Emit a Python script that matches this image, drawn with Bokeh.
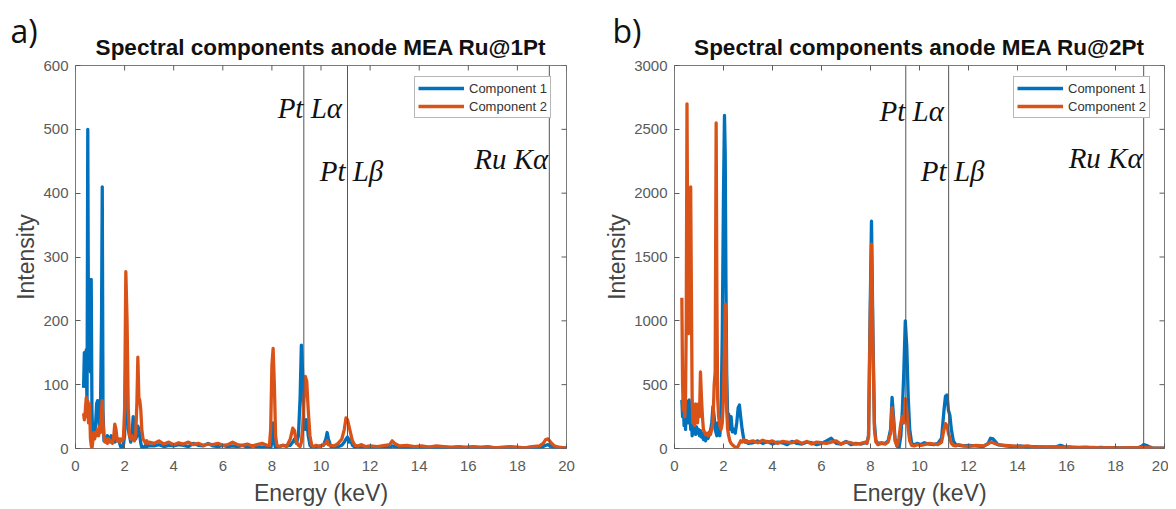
import math
from bokeh.plotting import figure
from bokeh.models import Range1d, FixedTicker, Legend, LegendItem, Title
from bokeh.layouts import row
from bokeh.embed import file_html
from bokeh.resources import INLINE
from bokeh.core.properties import value

# ---------------- data: panel a) (MEA Ru@1Pt) ----------------
EA_LOW = [0.33, 0.36, 0.40, 0.44, 0.47, 0.50, 0.53, 0.57, 0.61, 0.64, 0.67, 0.70, 0.74, 0.78, 0.82,
          0.86, 0.90, 0.94, 0.98, 1.02, 1.06, 1.09, 1.12, 1.16, 1.20, 1.25, 1.30, 1.35, 1.40, 1.45,
          1.50, 1.55, 1.60, 1.65, 1.70, 1.75, 1.80, 1.85, 1.90, 1.95, 2.00, 2.05, 2.10, 2.15, 2.20,
          2.25, 2.30, 2.35, 2.40, 2.45, 2.50, 2.54, 2.58, 2.62, 2.66, 2.70, 2.75, 2.80, 2.85, 2.90,
          2.95, 3.00]
A1_LOW = [95, 150, 100, 155, 60, 500, 150, 265, 120, 265, 60, 20, 30, 20, 40,
          70, 75, 50, 30, 70, 200, 410, 60, 12, 18, 10, 20, 12, 15, 20,
          12, 18, 10, 20, 12, 15, 8, 2, 0, 5, 20, 140, 80, 30, 20,
          10, 20, 50, 25, 15, 20, 35, 30, 20, 8, 2, 0, 3, 5, 2,
          5, 4]
A2_LOW = [55, 45, 60, 80, 50, 75, 40, 70, 15, 5, 0, 10, 25, 15, 25,
          20, 30, 20, 35, 25, 60, 75, 40, 20, 10, 15, 8, 15, 10, 12,
          8, 15, 38, 30, 12, 15, 10, 15, 12, 15, 60, 277, 200, 60, 20,
          15, 20, 15, 12, 20, 70, 143, 80, 75, 60, 30, 15, 12, 8, 12,
          8, 10]

E_MID = [3.2, 3.4, 3.6, 3.8, 4.0, 4.2, 4.4, 4.6, 4.8, 5.0, 5.2, 5.4, 5.6, 5.8, 6.0, 6.2,
         6.4, 6.6, 6.8, 7.0, 7.2, 7.4, 7.6, 7.8]
A1_MID = [4, 6, 3, 5, 4, 6, 5, 3, 8, 5, 4, 8, 4, 3, 5, 3, 4, 3, 5, 2, 4, 3, 2, 3]
A2_MID = [8, 12, 7, 10, 6, 9, 7, 10, 6, 8, 5, 7, 6, 8, 5, 6, 10, 6, 5, 7, 4, 6, 8, 5]

EA_PEAK = [7.90, 7.95, 8.00, 8.05, 8.10, 8.15, 8.20, 8.30, 8.45, 8.6, 8.75, 8.85, 8.92, 9.0, 9.08,
           9.15, 9.20, 9.25, 9.30, 9.36, 9.42, 9.48, 9.55, 9.62, 9.70, 9.80, 9.95, 10.1, 10.2, 10.25,
           10.3, 10.4, 10.55, 10.7, 10.85, 10.95, 11.02, 11.08, 11.14, 11.2, 11.28, 11.38, 11.5, 11.65,
           11.8, 12.0]
A1_PEAK = [2, 0, 10, 40, 10, 0, 2, 3, 5, 4, 5, 10, 15, 8, 20,
           80, 162, 120, 40, 30, 45, 20, 5, 2, 3, 2, 4, 5, 15, 25,
           15, 3, 2, 3, 5, 10, 15, 18, 10, 15, 5, 2, 3, 2, 3, 2]
A2_PEAK = [5, 30, 130, 157, 100, 20, 5, 3, 5, 3, 15, 32, 28, 10, 5,
           3, 10, 30, 70, 113, 105, 60, 20, 5, 3, 5, 3, 6, 8, 12,
           6, 5, 4, 8, 15, 30, 48, 45, 35, 25, 12, 5, 4, 6, 3, 4]

EA_TAIL = [12.3, 12.6, 12.8, 12.9, 13.0, 13.2, 13.5, 13.8, 14.1, 14.4, 14.7, 15.0, 15.3, 15.6, 15.9,
           16.2, 16.5, 16.8, 17.1, 17.4, 17.7, 18.0, 18.3, 18.6, 18.9, 19.05, 19.15, 19.25, 19.35,
           19.5, 19.7, 19.9, 20.0]
A1_TAIL = [2, 3, 2, 4, 3, 2, 1, 2, 1, 2, 1, 2, 1, 2, 1, 2, 1, 2, 1, 1, 2, 1, 1, 2, 1,
           3, 5, 6, 4, 1, 0, 1, 0]
A2_TAIL = [3, 5, 6, 12, 8, 4, 5, 3, 4, 2, 4, 3, 2, 3, 2, 3, 2, 3, 1, 2, 3, 2, 1, 3, 4,
           8, 14, 15, 10, 4, 2, 1, 2]

# ---------------- data: panel b) (MEA Ru@2Pt) ----------------
EB_LOW = [0.30, 0.33, 0.36, 0.39, 0.42, 0.45, 0.48, 0.51, 0.54, 0.57, 0.60, 0.63, 0.66, 0.69, 0.72,
          0.75, 0.78, 0.82, 0.86, 0.90, 0.94, 0.98, 1.02, 1.06, 1.10, 1.14, 1.18, 1.22, 1.27, 1.32,
          1.37, 1.42, 1.47, 1.52, 1.57, 1.62, 1.66, 1.70, 1.73, 1.76, 1.80, 1.85, 1.90, 1.95, 2.00,
          2.04, 2.07, 2.10, 2.13, 2.17, 2.21, 2.26, 2.31, 2.36, 2.42, 2.48, 2.54, 2.60, 2.65, 2.70,
          2.76, 2.82, 2.88, 2.94, 3.00]
B1_LOW = [380, 250, 390, 180, 350, 150, 360, 250, 370, 200, 380, 300, 150, 250, 100,
          160, 120, 180, 110, 170, 120, 150, 100, 140, 90, 120, 70, 100, 60, 90,
          80, 110, 140, 200, 330, 250, 150, 120, 100, 200, 150, 100, 250, 900, 2000,
          2610, 2300, 1300, 600, 250, 270, 150, 250, 130, 150, 120, 200, 320, 340, 250,
          150, 80, 50, 60, 40]
B2_LOW = [1180, 500, 300, 450, 250, 400, 1000, 2700, 1500, 900, 1200, 1700, 2050, 1200, 400,
          200, 250, 180, 350, 300, 200, 350, 250, 600, 400, 250, 150, 130, 110, 120,
          100, 130, 110, 150, 200, 500, 600, 2550, 1200, 400, 250, 180, 150, 200, 400,
          800, 1130, 900, 300, 150, 100, 60, 40, 30, 20, 10, 0, 20, 40, 60,
          50, 70, 50, 60, 50]

B1_MID = [45, 60, 40, 55, 35, 50, 45, 30, 55, 40, 35, 50, 45, 30, 40, 60, 80, 40, 35, 55, 30, 40, 35, 45]
B2_MID = [60, 45, 65, 50, 60, 40, 55, 50, 45, 60, 40, 55, 35, 50, 45, 40, 50, 60, 35, 50, 45, 35, 40, 50]

EB_PEAK = [7.85, 7.92, 7.98, 8.04, 8.10, 8.16, 8.22, 8.30, 8.45, 8.6, 8.72, 8.82, 8.88, 8.94, 9.0,
           9.08, 9.16, 9.24, 9.30, 9.36, 9.42, 9.48, 9.54, 9.60, 9.68, 9.78, 9.9, 10.05, 10.2, 10.4,
           10.6, 10.75, 10.9, 11.0, 11.06, 11.12, 11.18, 11.24, 11.3, 11.38, 11.48, 11.6, 11.8, 12.0]
B1_PEAK = [40, 100, 1000, 1780, 900, 200, 60, 40, 45, 40, 60, 150, 400, 250, 80,
           20, 0, 100, 300, 600, 1000, 800, 400, 150, 40, 30, 40, 30, 45, 35,
           30, 40, 80, 300, 410, 420, 300, 260, 150, 60, 30, 25, 20, 25]
B2_PEAK = [40, 90, 900, 1600, 800, 150, 50, 30, 40, 35, 50, 120, 320, 200, 60,
           20, 80, 200, 250, 200, 390, 300, 150, 60, 25, 20, 30, 25, 30, 40,
           35, 30, 50, 150, 195, 180, 120, 80, 40, 25, 20, 30, 20, 15]

EB_TAIL = [12.3, 12.6, 12.8, 12.9, 13.0, 13.2, 13.5, 13.8, 14.1, 14.4, 14.7, 15.0, 15.3, 15.6, 15.75,
           15.9, 16.2, 16.5, 16.8, 17.1, 17.4, 17.7, 18.0, 18.3, 18.6, 18.9, 19.05, 19.15, 19.25,
           19.35, 19.5, 19.7, 19.9, 20.0]
B1_TAIL = [20, 15, 40, 80, 75, 30, 20, 15, 20, 10, 15, 10, 12, 15, 25, 15, 10, 8, 10, 5,
           8, 5, 7, 5, 6, 5, 15, 30, 25, 15, 5, 3, 2, 2]
B2_TAIL = [25, 20, 35, 50, 45, 30, 25, 20, 15, 20, 10, 15, 10, 12, 10, 8, 10, 7, 6, 8,
           5, 6, 4, 5, 6, 4, 8, 10, 8, 6, 4, 3, 2, 2]

EA = EA_LOW + E_MID + EA_PEAK + EA_TAIL
A1 = A1_LOW + A1_MID + A1_PEAK + A1_TAIL
A2 = A2_LOW + A2_MID + A2_PEAK + A2_TAIL
EB = EB_LOW + E_MID + EB_PEAK + EB_TAIL
B1 = B1_LOW + B1_MID + B1_PEAK + B1_TAIL
B2 = B2_LOW + B2_MID + B2_PEAK + B2_TAIL

X_TICKS = [0, 2, 4, 6, 8, 10, 12, 14, 16, 18, 20]
YA_TICKS = [0, 100, 200, 300, 400, 500, 600]
YB_TICKS = [0, 500, 1000, 1500, 2000, 2500, 3000]

LINE_LABELS = ["Pt Lα", "Pt Lβ", "Ru Kα"]
LINES_A = [9.30, 11.08, 19.30]
LINES_B = [9.44, 11.19, 19.15]
SERIES_NAMES = ["Component 1", "Component 2"]
TITLES = ["Spectral components anode MEA Ru@1Pt", "Spectral components anode MEA Ru@2Pt"]
TAGS = ["a)", "b)"]

BLUE = "#0072BD"
ORANGE = "#D95319"
SANS = "Liberation Sans"
TICK = "#5a5a5a"


def make_panel(E, c1, c2, ymax, yticks, lines, label_y, title, tag, tag_offset, width, bl, br):
    p = figure(width=width, height=508, output_backend="svg", toolbar_location=None, title=None,
               x_range=Range1d(0, 20), y_range=Range1d(0, ymax),
               min_border_left=bl, min_border_right=br, min_border_top=65, min_border_bottom=60,
               x_axis_label="Energy (keV)", y_axis_label="Intensity")
    p.xgrid.grid_line_color = None
    p.ygrid.grid_line_color = None
    p.outline_line_color = "#7a7a7a"
    p.outline_line_width = 1

    p.xaxis.ticker = FixedTicker(ticks=X_TICKS)
    p.yaxis.ticker = FixedTicker(ticks=yticks)
    for ax in (p.xaxis[0], p.yaxis[0]):
        ax.major_tick_in = 5
        ax.major_tick_out = 0
        ax.minor_tick_line_color = None
        ax.axis_line_color = None
        ax.major_tick_line_color = TICK
        ax.major_label_text_font = SANS
        ax.major_label_text_font_size = "15px"
        ax.major_label_text_color = TICK
        ax.axis_label_text_font = SANS
        ax.axis_label_text_font_size = "23px"
        ax.axis_label_text_font_style = "normal"
        ax.axis_label_text_color = "#444444"
    p.xaxis.major_label_standoff = 12
    p.xaxis.axis_label_standoff = 6
    p.yaxis.major_label_standoff = 7
    p.yaxis.axis_label_standoff = 1

    # main title (next to the frame), then the panel tag above it, pulled down by a negative standoff
    p.add_layout(Title(text=title, align="center", standoff=12, text_font=SANS,
                       text_font_size="22.5px", text_font_style="bold", text_color="#111111"), "above")
    p.add_layout(Title(text=tag, align="left", offset=tag_offset, standoff=-50, text_font="Open Sans",
                       text_font_size="32px", text_font_style="normal", text_color="#111111"), "above")

    r1 = p.line(E, c1, line_color=BLUE, line_width=3.3, line_join="round")
    r2 = p.line(E, c2, line_color=ORANGE, line_width=3.3, line_join="round")

    # inward ticks on the top and right edges of the box (half of each dash is clipped by the frame)
    p.scatter(x=X_TICKS, y=[ymax] * len(X_TICKS), marker="dash", angle=math.pi / 2, size=10,
              line_color=TICK, line_width=1)
    p.scatter(x=[20] * len(yticks), y=yticks, marker="dash", size=10, line_color=TICK, line_width=1)

    p.segment(x0=lines, y0=[0] * len(lines), x1=lines, y1=[ymax] * len(lines),
              line_color="#555555", line_width=1)

    p.text(x=lines[:2], y=label_y[:2], text=LINE_LABELS[:2], x_offset=[6, 4],
           text_font=value("Liberation Serif"), text_font_style="italic",
           text_font_size="29px", text_align="center", text_baseline="middle", text_color="#111111")
    p.text(x=lines[2:], y=label_y[2:], text=LINE_LABELS[2:], x_offset=[-1],
           text_font=value("Liberation Serif"), text_font_style="italic",
           text_font_size="29px", text_align="right", text_baseline="middle", text_color="#111111")

    legend = Legend(items=[LegendItem(label=SERIES_NAMES[0], renderers=[r1]),
                           LegendItem(label=SERIES_NAMES[1], renderers=[r2])],
                    location=(339, 330))
    legend.margin = 0
    legend.padding = 3
    legend.spacing = 2
    legend.glyph_width = 46
    legend.glyph_height = 16
    legend.label_height = 16
    legend.label_standoff = 5
    legend.label_text_font = SANS
    legend.label_text_font_size = "13px"
    legend.label_text_color = "#333333"
    legend.border_line_color = "#707070"
    legend.border_line_width = 1
    legend.background_fill_alpha = 1.0
    p.add_layout(legend)
    return p


pa = make_panel(EA, A1, A2, 600, YA_TICKS, LINES_A, [533, 435, 454], TITLES[0], TAGS[0], -65,
                598, 75, 32)
pb = make_panel(EB, B1, B2, 3000, YB_TICKS, LINES_B, [2647, 2177, 2279], TITLES[1], TAGS[1], -62,
                570, 76, 4)

layout = row(pa, pb)
open("out.html", "w").write(file_html(layout, INLINE))
